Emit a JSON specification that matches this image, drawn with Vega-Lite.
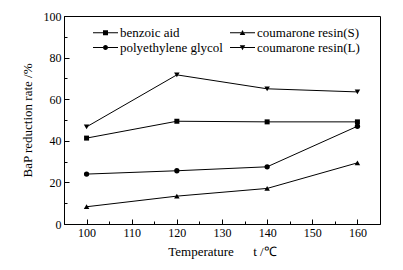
{
  "$schema": "https://vega.github.io/schema/vega-lite/v6.json",
  "width": 316,
  "height": 208,
  "autosize": {"type": "none"},
  "padding": {"left": 64, "top": 16, "right": 23, "bottom": 46},
  "background": "white",
  "config": {
    "view": {"stroke": "black", "strokeWidth": 1},
    "font": "Liberation Serif",
    "axis": {
      "domainColor": "black",
      "tickColor": "black",
      "labelColor": "black",
      "titleColor": "black",
      "labelFont": "Liberation Serif",
      "titleFont": "Liberation Serif",
      "labelFontSize": 12,
      "titleFontSize": 13,
      "titleFontWeight": "normal",
      "grid": false
    }
  },
  "data": {
    "values": [
      {"series": "benzoic aid", "t": 100, "rate": 41.3},
      {"series": "benzoic aid", "t": 120, "rate": 49.4},
      {"series": "benzoic aid", "t": 140, "rate": 49.1},
      {"series": "benzoic aid", "t": 160, "rate": 49.1},
      {"series": "polyethylene glycol", "t": 100, "rate": 24.0},
      {"series": "polyethylene glycol", "t": 120, "rate": 25.6},
      {"series": "polyethylene glycol", "t": 140, "rate": 27.5},
      {"series": "polyethylene glycol", "t": 160, "rate": 47.0},
      {"series": "coumarone resin(S)", "t": 100, "rate": 8.3},
      {"series": "coumarone resin(S)", "t": 120, "rate": 13.4},
      {"series": "coumarone resin(S)", "t": 140, "rate": 17.1},
      {"series": "coumarone resin(S)", "t": 160, "rate": 29.4},
      {"series": "coumarone resin(L)", "t": 100, "rate": 46.7},
      {"series": "coumarone resin(L)", "t": 120, "rate": 71.7},
      {"series": "coumarone resin(L)", "t": 140, "rate": 65.0},
      {"series": "coumarone resin(L)", "t": 160, "rate": 63.5}
    ]
  },
  "encoding": {
    "x": {
      "field": "t",
      "type": "quantitative",
      "scale": {"domain": [95, 165], "nice": false, "zero": false},
      "axis": {
        "title": "Temperature\u00a0\u00a0\u00a0\u00a0\u00a0\u00a0t /℃",
        "values": [100, 105, 110, 115, 120, 125, 130, 135, 140, 145, 150, 155, 160],
        "labelExpr": "datum.value % 10 === 0 ? datum.label : ''",
        "tickSize": {"condition": {"test": "datum.value % 10 === 0", "value": -5}, "value": -3},
        "labelPadding": 8,
        "titlePadding": 7,
        "labelFlush": false
      }
    },
    "y": {
      "field": "rate",
      "type": "quantitative",
      "scale": {"domain": [0, 100], "nice": false},
      "axis": {
        "title": "BaP reduction rate /%",
        "values": [0, 10, 20, 30, 40, 50, 60, 70, 80, 90, 100],
        "labelExpr": "datum.value % 20 === 0 ? datum.label : ''",
        "tickSize": {"condition": {"test": "datum.value % 20 === 0", "value": -5}, "value": -3},
        "labelPadding": 8,
        "titlePadding": 9,
        "labelFlush": false
      }
    }
  },
  "layer": [
    {
      "mark": {"type": "line", "color": "black", "strokeWidth": 1},
      "encoding": {"detail": {"field": "series"}}
    },
    {
      "transform": [{"filter": "datum.series == 'benzoic aid'"}],
      "mark": {"type": "point", "shape": "square", "filled": true, "color": "black", "opacity": 1, "size": 25}
    },
    {
      "transform": [{"filter": "datum.series == 'polyethylene glycol'"}],
      "mark": {"type": "point", "shape": "circle", "filled": true, "color": "black", "opacity": 1, "size": 28}
    },
    {
      "transform": [{"filter": "datum.series == 'coumarone resin(S)'"}],
      "mark": {"type": "point", "shape": "triangle-up", "filled": true, "color": "black", "opacity": 1, "size": 30}
    },
    {
      "transform": [{"filter": "datum.series == 'coumarone resin(L)'"}],
      "mark": {"type": "point", "shape": "triangle-down", "filled": true, "color": "black", "opacity": 1, "size": 30}
    },
    {
      "mark": {"type": "point", "filled": true, "color": "black", "opacity": 0, "size": 25},
      "encoding": {
        "shape": {
          "field": "series",
          "type": "nominal",
          "scale": {
            "domain": ["benzoic aid", "polyethylene glycol", "coumarone resin(S)", "coumarone resin(L)"],
            "range": [
              "M-1,-0.2H3V0.2H-1ZM5,-0.2H9V0.2H5ZM3,-1H5V1H3Z",
              "M-1,-0.2H3V0.2H-1ZM5,-0.2H9V0.2H5ZM3,0A1,1 0 1,1 5,0A1,1 0 1,1 3,0Z",
              "M-1,-0.2H3.4V0.2H-1ZM4.6,-0.2H9V0.2H4.6ZM4,-1.1L5.1,0.9H2.9Z",
              "M-1,-0.2H3.4V0.2H-1ZM4.6,-0.2H9V0.2H4.6ZM4,1.1L2.9,-0.9H5.1Z"
            ]
          },
          "legend": {
            "title": null,
            "orient": "none",
            "legendX": 25,
            "legendY": 10,
            "direction": "vertical",
            "columns": 2,
            "columnPadding": 3,
            "rowPadding": 1,
            "padding": 0,
            "labelFont": "Liberation Serif",
            "labelFontSize": 13,
            "labelColor": "black",
            "labelOffset": 18,
            "symbolSize": 25,
            "symbolOpacity": 1,
            "symbolFillColor": "black"
          }
        }
      }
    }
  ]
}
